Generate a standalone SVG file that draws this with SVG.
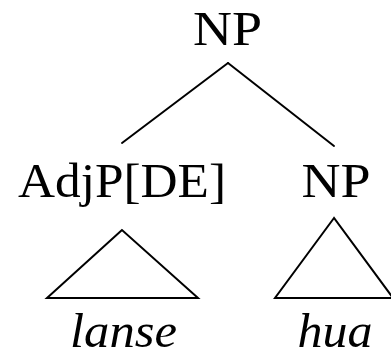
<svg xmlns="http://www.w3.org/2000/svg" width="391" height="354" viewBox="0 0 391 354">
  <style>
    .lbl { fill: #000; text-anchor: middle; }
    .edge { stroke: #000; stroke-width: 2; fill: none; stroke-linecap: round; }
  </style>
  <rect width="391" height="354" fill="#fff"/>
  <g id="connectors">
    <line class="edge" x1="228" y1="63" x2="122" y2="143"/>
    <line class="edge" x1="228" y1="63" x2="334" y2="146"/>
  </g>
  <g font-family="Liberation Serif" font-size="49">
    <g id="np-root">
      <text class="lbl" x="227.5" y="45" textLength="69" lengthAdjust="spacingAndGlyphs">NP</text>
    </g>
    <g id="adjp">
      <text class="lbl" x="122" y="197" textLength="208" lengthAdjust="spacingAndGlyphs">AdjP[DE]</text>
      <polygon class="edge" points="122,230 47,298 198,298"/>
    </g>
    <g id="np-head">
      <text class="lbl" x="336" y="197" textLength="69" lengthAdjust="spacingAndGlyphs">NP</text>
      <polygon class="edge" points="334,218 275,298 393,298"/>
    </g>
    <g id="leaf-lanse">
      <text class="lbl" font-style="italic" x="123.5" y="347" textLength="107" lengthAdjust="spacingAndGlyphs">lanse</text>
    </g>
    <g id="leaf-hua">
      <text class="lbl" font-style="italic" x="335" y="347" textLength="75" lengthAdjust="spacingAndGlyphs">hua</text>
    </g>
  </g>
</svg>
